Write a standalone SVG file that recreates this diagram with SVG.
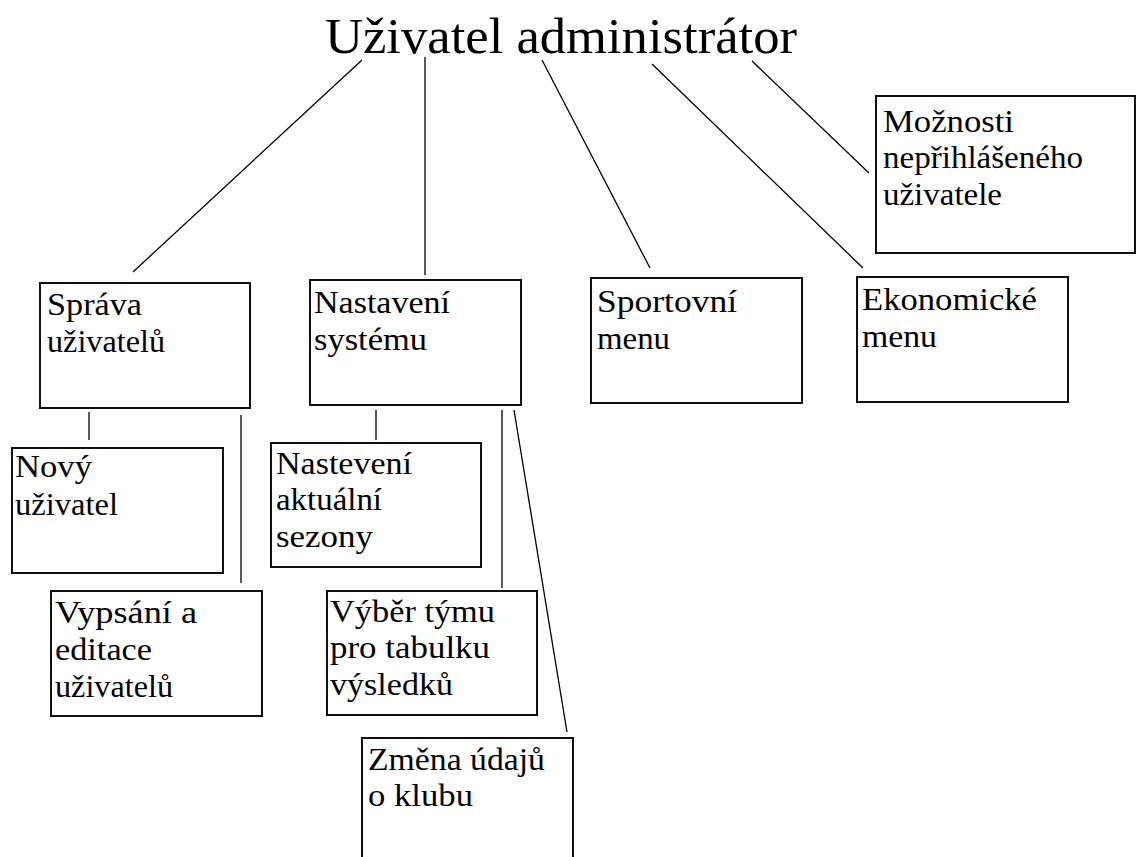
<svg xmlns="http://www.w3.org/2000/svg" width="1138" height="857" viewBox="0 0 1138 857">
<style>
.box{fill:#fff;stroke:#111;stroke-width:2}
.t{font-family:"Liberation Serif","Times New Roman",serif;font-size:31px;fill:#000}
.title{font-family:"Liberation Serif","Times New Roman",serif;font-size:51px;fill:#000}
.c line{stroke:#000;stroke-width:1.3}
</style>
<rect width="1138" height="857" fill="#fff"/>
<g id="title"><text class="title" x="325" y="53" textLength="472" lengthAdjust="spacingAndGlyphs">Uživatel administrátor</text></g>
<g class="c" id="connectors">
<line x1="362" y1="60" x2="133" y2="272"/>
<line x1="425" y1="57" x2="425" y2="275"/>
<line x1="542" y1="60" x2="650" y2="268"/>
<line x1="652" y1="64" x2="863" y2="268"/>
<line x1="752" y1="61" x2="869" y2="173"/>
<line x1="89" y1="412" x2="89" y2="440"/>
<line x1="241" y1="415" x2="241" y2="583"/>
<line x1="376" y1="410" x2="376" y2="440"/>
<line x1="502" y1="410" x2="502" y2="588"/>
<line x1="514" y1="410" x2="567" y2="732"/>
</g>
<g id="sprava"><rect class="box" x="40" y="283" width="210" height="125"/>
<text class="t" x="47" y="315" textLength="95" lengthAdjust="spacingAndGlyphs">Správa</text><text class="t" x="47" y="352" textLength="118" lengthAdjust="spacingAndGlyphs">uživatelů</text></g>
<g id="nastaveni"><rect class="box" x="310" y="280" width="211" height="125"/>
<text class="t" x="314" y="313" textLength="136" lengthAdjust="spacingAndGlyphs">Nastavení</text><text class="t" x="314" y="350" textLength="113" lengthAdjust="spacingAndGlyphs">systému</text></g>
<g id="sportovni"><rect class="box" x="591" y="278" width="211" height="125"/>
<text class="t" x="597" y="312" textLength="140" lengthAdjust="spacingAndGlyphs">Sportovní</text><text class="t" x="597" y="349" textLength="73" lengthAdjust="spacingAndGlyphs">menu</text></g>
<g id="ekonomicke"><rect class="box" x="857" y="277" width="211" height="125"/>
<text class="t" x="862" y="310" textLength="175" lengthAdjust="spacingAndGlyphs">Ekonomické</text><text class="t" x="862" y="347" textLength="75" lengthAdjust="spacingAndGlyphs">menu</text></g>
<g id="moznosti"><rect class="box" x="876" y="96" width="259" height="157"/>
<text class="t" x="883" y="132" textLength="131" lengthAdjust="spacingAndGlyphs">Možnosti</text><text class="t" x="883" y="168" textLength="200" lengthAdjust="spacingAndGlyphs">nepřihlášeného</text><text class="t" x="883" y="205" textLength="119" lengthAdjust="spacingAndGlyphs">uživatele</text></g>
<g id="novy"><rect class="box" x="12" y="448" width="211" height="125"/>
<text class="t" x="15" y="477" textLength="77" lengthAdjust="spacingAndGlyphs">Nový</text><text class="t" x="15" y="515" textLength="103" lengthAdjust="spacingAndGlyphs">uživatel</text></g>
<g id="vypsani"><rect class="box" x="51" y="591" width="211" height="125"/>
<text class="t" x="55" y="623" textLength="142" lengthAdjust="spacingAndGlyphs">Vypsání a</text><text class="t" x="55" y="660" textLength="97" lengthAdjust="spacingAndGlyphs">editace</text><text class="t" x="55" y="697" textLength="118" lengthAdjust="spacingAndGlyphs">uživatelů</text></g>
<g id="sezona"><rect class="box" x="271" y="443" width="210" height="124"/>
<text class="t" x="276" y="474" textLength="136" lengthAdjust="spacingAndGlyphs">Nastevení</text><text class="t" x="276" y="510" textLength="106" lengthAdjust="spacingAndGlyphs">aktuální</text><text class="t" x="276" y="547" textLength="97" lengthAdjust="spacingAndGlyphs">sezony</text></g>
<g id="vyber"><rect class="box" x="327" y="591" width="210" height="124"/>
<text class="t" x="330" y="622" textLength="165" lengthAdjust="spacingAndGlyphs">Výběr týmu</text><text class="t" x="330" y="658" textLength="160" lengthAdjust="spacingAndGlyphs">pro tabulku</text><text class="t" x="330" y="695" textLength="123" lengthAdjust="spacingAndGlyphs">výsledků</text></g>
<g id="zmena"><rect class="box" x="362" y="738" width="211" height="140"/>
<text class="t" x="368" y="770" textLength="177" lengthAdjust="spacingAndGlyphs">Změna údajů</text><text class="t" x="368" y="806" textLength="105" lengthAdjust="spacingAndGlyphs">o klubu</text></g>
</svg>
